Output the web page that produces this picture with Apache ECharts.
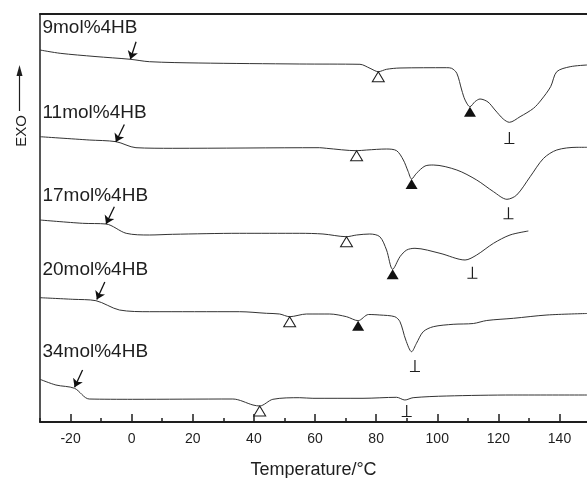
<!DOCTYPE html>
<html><head><meta charset="utf-8">
<script src="https://cdn.jsdelivr.net/npm/echarts@6/dist/echarts.min.js"></script>
<style>html,body{margin:0;padding:0;background:#fff}#c{width:587px;height:478px}</style>
</head><body><div id="c"></div>
<script>
// ---- data (temperature in °C, heat flow in arbitrary offset units) ----
const sampleNames = ['9mol%4HB', '11mol%4HB', '17mol%4HB', '20mol%4HB', '34mol%4HB'];
const curve9 = [[-30,372],[-23.4,368.7],[-12,365.5],[-0.4,362.7],[5.8,360.3],[22,359],[55,358],[74.7,357.7],[78,353.7],[80.7,350.3],[83.4,352.7],[87.8,354],[103.1,354.3],[104.7,353.7],[106.4,348.7],[108,332],[109.1,322],[110.7,315.3],[112.4,320.5],[114,323],[116.6,320],[118.9,312],[121.6,303],[123.6,299.7],[127.1,305.3],[131.5,313.7],[134,322],[137.1,335.3],[139.1,350.3],[143.5,355.3],[149,357]];
const curve11 = [[-30,285.3],[-13.9,282],[-5.1,280.3],[1.4,274.3],[13.3,273.7],[61.5,274.3],[63.7,273.7],[73.6,271.3],[76.9,272],[83.4,273],[86.7,271.3],[88.9,262],[90.5,250.3],[91.6,243],[93.2,248.7],[96,256],[98.7,257],[106.4,252],[112.9,242],[118.4,230.3],[122.8,222.7],[126,227],[130.4,245.3],[134.8,263.7],[139.1,272],[145.7,274.7],[149,274.7]];
const curve17 = [[-30,202],[-16.1,198.7],[-8.4,198],[-1.8,188.7],[5.8,187],[13.4,187.7],[35.3,188.7],[55,188.7],[62.6,188],[70.3,185.3],[73.6,187],[77.9,188],[81.2,185.3],[83.4,172],[85.4,152.7],[87.8,165.3],[90,172],[92.7,173.7],[100.9,168.7],[109.1,162],[112.9,167],[118.4,178.7],[123.8,187],[129.8,191]];
const curve20 = [[-30,124.3],[-19.3,122.7],[-11.7,121.3],[-4,112],[5.8,110.3],[35.3,110.3],[44.1,108.7],[48.4,108],[51.7,105.3],[57.2,108],[64.8,108],[70.3,105.3],[74.1,101.3],[77.5,107.5],[81.2,107],[86.1,105.3],[87.8,100.3],[89.7,82],[91.6,70.3],[93.2,78.7],[95.4,90.3],[98.7,95.3],[105.2,97.7],[111.8,98.5],[116.2,101.5],[124.9,103.7],[135.9,107],[149,108.5]];
const curve34 = [[-30,42.7],[-24.8,37],[-18.7,33.7],[-13.9,23],[0.3,22.7],[33.1,23],[39.7,17],[41.9,16],[46.2,22.7],[55,24.3],[59.3,23.7],[75.7,23.7],[86.7,24.7],[89.4,22],[92.1,24.3],[103.1,26],[124.9,27],[149,27]];
const curves = [curve9, curve11, curve17, curve20, curve34];

// markers: open triangles (cold crystallization), filled triangles, ⊥ (melting peaks)
const openTriangles = [[80.7,350.3],[73.6,271.3],[70.3,185.3],[51.7,105.3],[41.9,16]];
const filledTriangles = [[110.7,315.3],[91.6,243],[85.4,152.7],[74.1,101.3]];
const meltPeaks = [[123.6,284],[123.3,208.7],[111.5,149.2],[92.7,56],[90,11]];
// glass-transition arrows: [tail, tip]
const tgArrows = [
  [[1.44,380.3],[-0.43,362.7]],
  [[-2.4,297.5],[-5.18,280]],
  [[-5.67,215.3],[-8.39,198]],
  [[-8.79,140],[-11.4,122.5]],
  [[-16.07,52],[-18.69,34.7]]
];
const labelAnchors = [[-29.2,394.5],[-29.2,309],[-29.2,226],[-29.2,152],[-29.2,70]];

const majorTicks = [-20,0,20,40,60,80,100,120,140];
const minorTicks = [-30,-10,10,30,50,70,90,110,130];
const xMin = -30, xMax = 149, yMin = 0, yMax = 408;

// ---- chart ----
const FONT = "'Liberation Sans', Arial, Helvetica, sans-serif";
const INK = '#1e1e1e';
const chart = echarts.init(document.getElementById('c'), null, {renderer: 'canvas'});

const series = [];
curves.forEach((c, i) => {
  series.push({
    type: 'line', name: sampleNames[i], data: c, showSymbol: false, smooth: 0.3,
    lineStyle: {color: '#333', width: 1}, z: 2, silent: true
  });
});
series.push({
  type: 'scatter', data: openTriangles, symbol: 'triangle', symbolSize: [12, 10], symbolOffset: [0, 5],
  itemStyle: {color: '#fff', borderColor: INK, borderWidth: 1, opacity: 1}, z: 5, silent: true
});
series.push({
  type: 'scatter', data: filledTriangles, symbol: 'triangle', symbolSize: [12, 10], symbolOffset: [0, 5],
  itemStyle: {color: '#111', opacity: 1}, z: 5, silent: true
});
series.push({
  type: 'scatter', data: meltPeaks,
  symbol: 'path://M4.4,0 L5.6,0 L5.6,11 L10,11 L10,12 L0,12 L0,11 L4.4,11 Z',
  symbolSize: [10, 12], itemStyle: {color: INK, opacity: 1}, z: 5, silent: true
});
series.push({
  type: 'lines', coordinateSystem: 'cartesian2d', silent: true, z: 6,
  data: tgArrows.map(a => ({coords: a})),
  symbol: ['none', 'arrow'], symbolSize: 8,
  lineStyle: {color: '#111', width: 1.3, opacity: 1}
});
series.push({
  type: 'scatter', silent: true, z: 6, symbolSize: 0,
  itemStyle: {opacity: 1, color: INK},
  data: labelAnchors.map((p, i) => ({value: p, name: sampleNames[i]})),
  label: {show: true, position: 'right', distance: 0, formatter: p => p.name,
    fontFamily: FONT, fontSize: 19, color: INK, opacity: 1}
});

chart.setOption({
  animation: false,
  backgroundColor: '#fff',
  grid: {left: 40, right: 0, top: 14, bottom: 56, outerBoundsMode: 'none'},
  xAxis: [
    {type: 'value', position: 'bottom', min: xMin, max: xMax,
     axisLine: {show: true, onZero: false, lineStyle: {color: INK, width: 2}},
     axisTick: {show: true, inside: true, length: 8, customValues: majorTicks, lineStyle: {color: INK, width: 1.5}},
     axisLabel: {show: true, customValues: majorTicks, fontFamily: FONT, fontSize: 14, color: INK, margin: 10},
     splitLine: {show: false},
     name: 'Temperature/°C', nameLocation: 'middle', nameGap: 39,
     nameTextStyle: {fontFamily: FONT, fontSize: 18, color: INK}},
    {type: 'value', position: 'bottom', min: xMin, max: xMax,
     axisLine: {show: false, onZero: false},
     axisTick: {show: true, inside: true, length: 4, customValues: minorTicks, lineStyle: {color: INK, width: 1.5}},
     axisLabel: {show: false}, splitLine: {show: false}},
    {type: 'value', position: 'top', min: xMin, max: xMax,
     axisLine: {show: true, onZero: false, lineStyle: {color: INK, width: 2}},
     axisTick: {show: false}, axisLabel: {show: false}, splitLine: {show: false}}
  ],
  yAxis: {type: 'value', position: 'left', min: yMin, max: yMax,
    axisLine: {show: true, onZero: false, lineStyle: {color: INK, width: 1.5}},
    axisTick: {show: false}, axisLabel: {show: false}, splitLine: {show: false}},
  graphic: [
    {type: 'text', x: 22, y: 131, rotation: Math.PI / 2,
     style: {text: 'EXO', fontFamily: FONT, fontSize: 15, fill: INK, align: 'center', verticalAlign: 'middle'}},
    {type: 'line', shape: {x1: 19.5, y1: 111, x2: 19.5, y2: 72}, style: {stroke: INK, lineWidth: 1.2}},
    {type: 'polygon', shape: {points: [[19.5, 65], [16.5, 76], [22.5, 76]]}, style: {fill: INK}}
  ],
  series: series
});
</script>
</body></html>
